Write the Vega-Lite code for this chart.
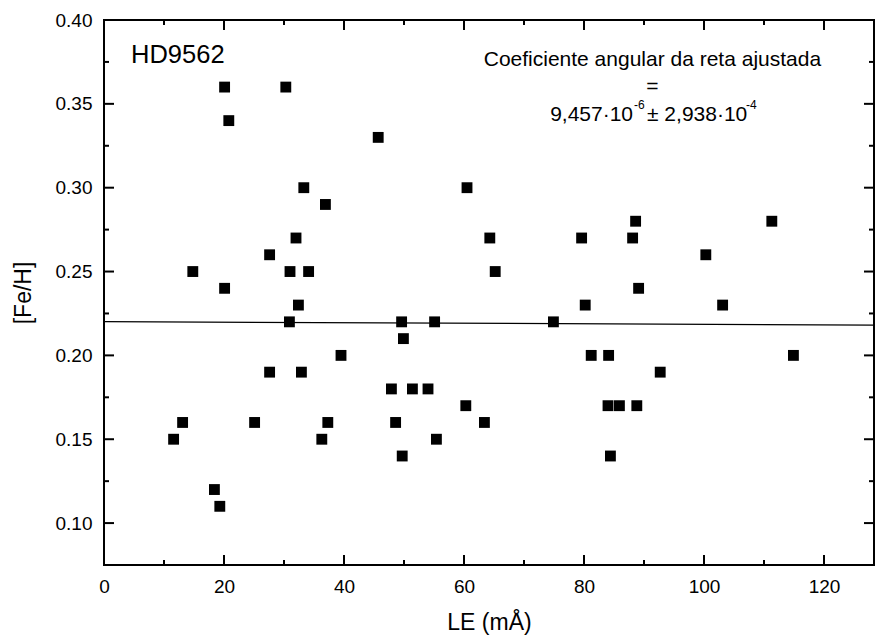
{
  "$schema": "https://vega.github.io/schema/vega-lite/v6.json",
  "autosize": {"type": "none"},
  "padding": {"left": 104, "top": 20, "right": 3, "bottom": 76},
  "width": 770,
  "height": 545,
  "background": "white",
  "config": {
    "view": {"stroke": "black", "strokeWidth": 2},
    "font": "Liberation Sans",
    "text": {"font": "Liberation Sans", "color": "black"},
    "axis": {
      "grid": false,
      "domain": false,
      "ticks": false,
      "labelColor": "black",
      "labelFont": "Liberation Sans",
      "labelFontSize": 19,
      "titleFont": "Liberation Sans",
      "titleFontSize": 23,
      "titleFontWeight": "normal",
      "titleColor": "black"
    }
  },
  "data": {
    "values": [
      {"LE": 11.6, "FeH": 0.15}, {"LE": 13.1, "FeH": 0.16}, {"LE": 14.8, "FeH": 0.25},
      {"LE": 18.4, "FeH": 0.12}, {"LE": 19.3, "FeH": 0.11}, {"LE": 20.1, "FeH": 0.36},
      {"LE": 20.8, "FeH": 0.34}, {"LE": 20.1, "FeH": 0.24}, {"LE": 25.1, "FeH": 0.16},
      {"LE": 27.6, "FeH": 0.26}, {"LE": 27.6, "FeH": 0.19}, {"LE": 30.3, "FeH": 0.36},
      {"LE": 31.0, "FeH": 0.25}, {"LE": 30.9, "FeH": 0.22}, {"LE": 32.0, "FeH": 0.27},
      {"LE": 32.4, "FeH": 0.23}, {"LE": 32.9, "FeH": 0.19}, {"LE": 33.3, "FeH": 0.30},
      {"LE": 34.1, "FeH": 0.25}, {"LE": 36.3, "FeH": 0.15}, {"LE": 36.9, "FeH": 0.29},
      {"LE": 37.3, "FeH": 0.16}, {"LE": 39.5, "FeH": 0.20}, {"LE": 45.7, "FeH": 0.33},
      {"LE": 47.9, "FeH": 0.18}, {"LE": 48.6, "FeH": 0.16}, {"LE": 49.6, "FeH": 0.22},
      {"LE": 49.9, "FeH": 0.21}, {"LE": 49.7, "FeH": 0.14}, {"LE": 51.4, "FeH": 0.18},
      {"LE": 54.0, "FeH": 0.18}, {"LE": 55.1, "FeH": 0.22}, {"LE": 55.4, "FeH": 0.15},
      {"LE": 60.3, "FeH": 0.17}, {"LE": 60.5, "FeH": 0.30}, {"LE": 63.4, "FeH": 0.16},
      {"LE": 64.3, "FeH": 0.27}, {"LE": 65.2, "FeH": 0.25}, {"LE": 74.9, "FeH": 0.22},
      {"LE": 79.6, "FeH": 0.27}, {"LE": 80.2, "FeH": 0.23}, {"LE": 81.2, "FeH": 0.20},
      {"LE": 84.1, "FeH": 0.20}, {"LE": 84.0, "FeH": 0.17}, {"LE": 84.4, "FeH": 0.14},
      {"LE": 85.9, "FeH": 0.17}, {"LE": 88.1, "FeH": 0.27}, {"LE": 88.6, "FeH": 0.28},
      {"LE": 88.8, "FeH": 0.17}, {"LE": 89.1, "FeH": 0.24}, {"LE": 92.7, "FeH": 0.19},
      {"LE": 100.3, "FeH": 0.26}, {"LE": 103.1, "FeH": 0.23}, {"LE": 111.3, "FeH": 0.28},
      {"LE": 114.9, "FeH": 0.20}
    ]
  },
  "layer": [
    {
      "mark": {"type": "point", "shape": "square", "filled": true, "color": "black", "opacity": 1, "size": 118},
      "encoding": {
        "x": {
          "field": "LE", "type": "quantitative",
          "scale": {"domain": [0, 128.33], "nice": false, "zero": false},
          "axis": {"orient": "bottom", "values": [0, 20, 40, 60, 80, 100, 120], "ticks": false, "labelPadding": 12, "title": "LE (mÅ)", "titlePadding": 15, "labelFlush": false}
        },
        "y": {
          "field": "FeH", "type": "quantitative",
          "scale": {"domain": [0.075, 0.40], "nice": false, "zero": false},
          "axis": {"orient": "left", "values": [0.10, 0.15, 0.20, 0.25, 0.30, 0.35, 0.40], "format": ".2f", "ticks": false, "labelPadding": 12, "title": "[Fe/H]", "titlePadding": 20, "labelFlush": false}
        }
      }
    },
    {
      "data": {"values": [{"LE": 0, "FeH": 0.2201}, {"LE": 128.33, "FeH": 0.2181}]},
      "mark": {"type": "line", "color": "black", "strokeWidth": 1.2},
      "encoding": {
        "x": {"field": "LE", "type": "quantitative"},
        "y": {"field": "FeH", "type": "quantitative"}
      }
    },
    {
      "data": {"values": [{"v": 0}, {"v": 20}, {"v": 40}, {"v": 60}, {"v": 80}, {"v": 100}, {"v": 120}]},
      "mark": {"type": "point", "shape": "M0,0L0,-1", "size": 400, "filled": false, "stroke": "black", "strokeWidth": 2, "opacity": 1},
      "encoding": {
        "x": {"field": "v", "type": "quantitative"},
        "y": {"datum": 0.075, "type": "quantitative"}
      }
    },
    {
      "data": {"values": [{"v": 0}, {"v": 20}, {"v": 40}, {"v": 60}, {"v": 80}, {"v": 100}, {"v": 120}]},
      "mark": {"type": "point", "shape": "M0,0L0,1", "size": 400, "filled": false, "stroke": "black", "strokeWidth": 2, "opacity": 1},
      "encoding": {
        "x": {"field": "v", "type": "quantitative"},
        "y": {"datum": 0.40, "type": "quantitative"}
      }
    },
    {
      "data": {"values": [{"v": 10}, {"v": 30}, {"v": 50}, {"v": 70}, {"v": 90}, {"v": 110}]},
      "mark": {"type": "point", "shape": "M0,0L0,-1", "size": 100, "filled": false, "stroke": "black", "strokeWidth": 2, "opacity": 1},
      "encoding": {
        "x": {"field": "v", "type": "quantitative"},
        "y": {"datum": 0.075, "type": "quantitative"}
      }
    },
    {
      "data": {"values": [{"v": 10}, {"v": 30}, {"v": 50}, {"v": 70}, {"v": 90}, {"v": 110}]},
      "mark": {"type": "point", "shape": "M0,0L0,1", "size": 100, "filled": false, "stroke": "black", "strokeWidth": 2, "opacity": 1},
      "encoding": {
        "x": {"field": "v", "type": "quantitative"},
        "y": {"datum": 0.40, "type": "quantitative"}
      }
    },
    {
      "data": {"values": [{"v": 0.10}, {"v": 0.15}, {"v": 0.20}, {"v": 0.25}, {"v": 0.30}, {"v": 0.35}, {"v": 0.40}]},
      "mark": {"type": "point", "shape": "M0,0L1,0", "size": 400, "filled": false, "stroke": "black", "strokeWidth": 2, "opacity": 1},
      "encoding": {
        "y": {"field": "v", "type": "quantitative"},
        "x": {"datum": 0, "type": "quantitative"}
      }
    },
    {
      "data": {"values": [{"v": 0.10}, {"v": 0.15}, {"v": 0.20}, {"v": 0.25}, {"v": 0.30}, {"v": 0.35}, {"v": 0.40}]},
      "mark": {"type": "point", "shape": "M0,0L-1,0", "size": 400, "filled": false, "stroke": "black", "strokeWidth": 2, "opacity": 1},
      "encoding": {
        "y": {"field": "v", "type": "quantitative"},
        "x": {"datum": 128.33, "type": "quantitative"}
      }
    },
    {
      "data": {"values": [{"v": 0.125}, {"v": 0.175}, {"v": 0.225}, {"v": 0.275}, {"v": 0.325}, {"v": 0.375}]},
      "mark": {"type": "point", "shape": "M0,0L1,0", "size": 100, "filled": false, "stroke": "black", "strokeWidth": 2, "opacity": 1},
      "encoding": {
        "y": {"field": "v", "type": "quantitative"},
        "x": {"datum": 0, "type": "quantitative"}
      }
    },
    {
      "data": {"values": [{"v": 0.125}, {"v": 0.175}, {"v": 0.225}, {"v": 0.275}, {"v": 0.325}, {"v": 0.375}]},
      "mark": {"type": "point", "shape": "M0,0L-1,0", "size": 100, "filled": false, "stroke": "black", "strokeWidth": 2, "opacity": 1},
      "encoding": {
        "y": {"field": "v", "type": "quantitative"},
        "x": {"datum": 128.33, "type": "quantitative"}
      }
    },
    {
      "data": {"values": [{}]},
      "mark": {"type": "text", "text": "HD9562", "fontSize": 25.5, "align": "left", "baseline": "middle"},
      "encoding": {
        "x": {"datum": 4.5, "type": "quantitative"},
        "y": {"datum": 0.3794, "type": "quantitative"}
      }
    },
    {
      "data": {"values": [{}]},
      "mark": {"type": "text", "text": "Coeficiente angular da reta ajustada", "fontSize": 21, "align": "center", "baseline": "middle"},
      "encoding": {
        "x": {"datum": 91.4, "type": "quantitative"},
        "y": {"datum": 0.3761, "type": "quantitative"}
      }
    },
    {
      "data": {"values": [{}]},
      "mark": {"type": "text", "text": "=", "fontSize": 21, "align": "center", "baseline": "middle"},
      "encoding": {
        "x": {"datum": 91.4, "type": "quantitative"},
        "y": {"datum": 0.36, "type": "quantitative"}
      }
    },
    {
      "data": {"values": [{}]},
      "mark": {"type": "text", "text": "9,457·10", "fontSize": 21, "align": "right", "baseline": "middle"},
      "encoding": {
        "x": {"datum": 88.17, "type": "quantitative"},
        "y": {"datum": 0.3434, "type": "quantitative"}
      }
    },
    {
      "data": {"values": [{}]},
      "mark": {"type": "text", "text": "-6", "fontSize": 12, "align": "left", "baseline": "middle", "dy": -10},
      "encoding": {
        "x": {"datum": 88.33, "type": "quantitative"},
        "y": {"datum": 0.3434, "type": "quantitative"}
      }
    },
    {
      "data": {"values": [{}]},
      "mark": {"type": "text", "text": "± 2,938·10", "fontSize": 21, "align": "left", "baseline": "middle"},
      "encoding": {
        "x": {"datum": 90.5, "type": "quantitative"},
        "y": {"datum": 0.3434, "type": "quantitative"}
      }
    },
    {
      "data": {"values": [{}]},
      "mark": {"type": "text", "text": "-4", "fontSize": 12, "align": "left", "baseline": "middle", "dy": -10},
      "encoding": {
        "x": {"datum": 107.0, "type": "quantitative"},
        "y": {"datum": 0.3434, "type": "quantitative"}
      }
    }
  ]
}
